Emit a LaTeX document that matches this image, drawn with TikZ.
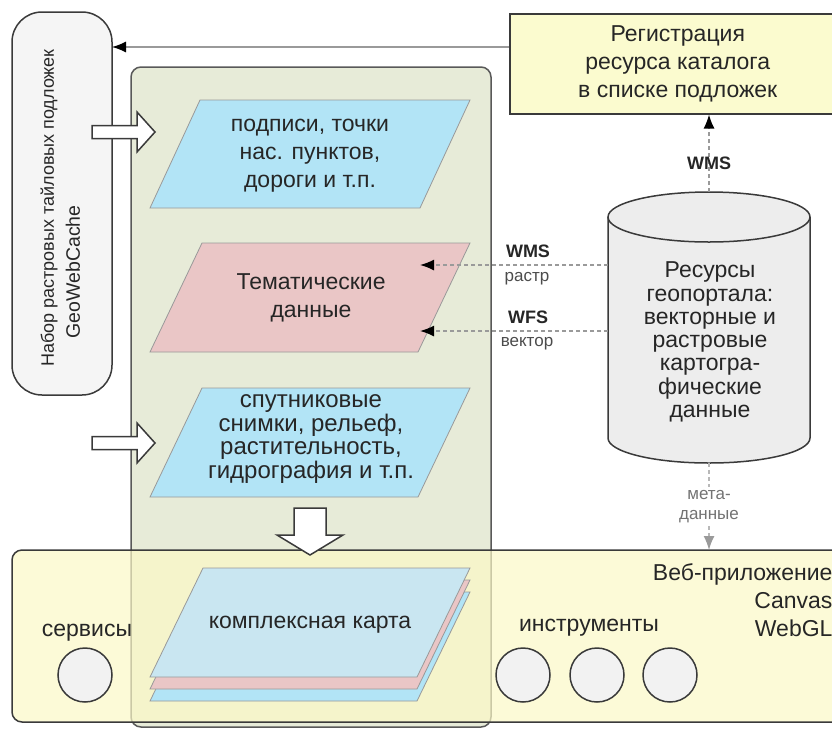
\documentclass[tikz,border=0pt]{standalone}
\usepackage{fontspec}
\setmainfont{Liberation Sans}
\usetikzlibrary{arrows.meta}

\definecolor{boxgray}{HTML}{F5F5F5}
\definecolor{panelgreen}{HTML}{E7EBD8}
\definecolor{paperblue}{HTML}{B2E4F6}
\definecolor{paperpink}{HTML}{EAC6C6}
\definecolor{mapblue}{HTML}{C9E6F1}
\definecolor{noteyellow}{HTML}{FBFBCF}
\definecolor{bandyellow}{HTML}{FBF8C6}
\definecolor{cylgray}{HTML}{EDEDED}
\definecolor{linegray}{HTML}{9A9A9A}
\definecolor{edgegray}{HTML}{3A3A3A}

\tikzset{
	big/.style={font=\fontsize{23}{28}\selectfont, text=black!85, align=center},
	lbl/.style={font=\fontsize{18}{20}\selectfont\bfseries, text=black!85, inner sep=1pt},
	sublbl/.style={font=\fontsize{17}{20}\selectfont, text=black!70, inner sep=1pt},
	frame/.style={draw=edgegray, line width=1.5pt},
	sheet/.style={draw=black!40, line width=0.8pt},
	blockarrow/.style={frame, fill=white, line join=miter},
	link/.style={draw=linegray, line width=1.5pt, dash pattern=on 4pt off 3pt,
		-{Latex[length=14pt,width=11pt,color=black]}},
	tool/.style={circle, frame, fill=cylgray!70, minimum size=54pt, inner sep=0pt}
}

\begin{document}
\begin{tikzpicture}[x=1pt,y=-1pt]
	\useasboundingbox (0,0) rectangle (832,729);
	
	% tile cache and the layer panel
	\draw[frame, fill=boxgray, rounded corners=30pt] (12,12) rectangle (112,395);
	\node[big, rotate=90, font=\fontsize{18}{24}\selectfont] (cache) at (49,208)
		{Набор растровых тайловых подложек};
	\node[big, rotate=90, font=\fontsize{19.5}{24}\selectfont] (cachename) at (73,272) {GeoWebCache};
	\coordinate (cachetip) at (112,47);
	\draw[frame, draw=black!65, fill=panelgreen, rounded corners=10pt] (131,67) rectangle (491,727);
	
	\draw[sheet, fill=paperblue] (150,208) -- (200,100) -- (470,100) -- (420,208) -- cycle;
	\node[big] (labels) at (310,156) {подписи, точки\\нас. пунктов,\\дороги и т.п.};
	\draw[sheet, fill=paperpink] (150,352) -- (202,243) -- (470,243) -- (418,352) -- cycle;
	\node[big] (theme) at (311,298) {Тематические\\данные};
	\draw[sheet, fill=paperblue] (150,497) -- (202,388) -- (470,388) -- (418,497) -- cycle;
	\node[big, font=\fontsize{24}{23.5}\selectfont] (sat) at (311,439)
		{спутниковые\\снимки, рельеф,\\растительность,\\гидрография и т.п.};
	\coordinate (wmsend) at (420,265);
	\coordinate (wfsend) at (420,331);
	
	\foreach \c in {132,443}{% block arrows
		\draw[blockarrow] (92,\c-6.5) -- (137,\c-6.5) -- (137,\c-20) -- (155,\c)
			-- (137,\c+20) -- (137,\c+6.5) -- (92,\c+6.5) -- cycle;
	}
	
	% catalogue registration
	\node[frame, fill=noteyellow, big, anchor=north west, minimum width=336pt,
		minimum height=100pt] (reg) at (509,13) {Регистрация\\ресурса каталога\\в списке подложек};
	\draw[draw=linegray, line width=1.2pt, -{Latex[length=14pt,width=11pt,color=black]}]
		(reg.west |- cachetip) -- (cachetip);
	
	% geoportal resources
	\draw[frame, fill=cylgray] (608,217) -- (608,438)
		arc[start angle=180, end angle=360, x radius=101pt, y radius=25pt] -- (810,217);
	\draw[frame, fill=cylgray] (709,217) ellipse [x radius=101pt, y radius=25pt];
	\node[big, font=\fontsize{23}{23.3}\selectfont] (geo) at (710,342)
		{Ресурсы\\геопортала:\\векторные и\\растровые\\картогра-\\фические\\данные};
	\coordinate (geotop) at (709,192);
	\coordinate (geobot) at (709,463);
	\coordinate (geowms) at (608,265);
	\coordinate (geowfs) at (608,331);
	
	\draw[link] (geotop) -- node[lbl, pos=0.37] {WMS} (geotop |- reg.south);
	\draw[link] (geowms) -- (wmsend);
	\draw[link] (geowfs) -- (wfsend);
	\node[lbl] (wmslbl) at (528,251) {WMS};
	\node[sublbl] (rastlbl) at (527,279) {растр};
	\node[lbl] (wfslbl) at (528,317) {WFS};
	\node[sublbl] (veclbl) at (527,344) {вектор};
	
	% web application
	\draw[frame, fill=bandyellow, fill opacity=0.7, rounded corners=10pt] (12,550) rectangle (845,722);
	\coordinate (bandtop) at (709,550);
	\draw[link, draw=linegray!70, -{Latex[length=14pt,width=11pt,color=linegray]}] (geobot) --
		node[sublbl, text=black!55, fill=white, align=center, inner sep=3pt] {мета-\\данные} (bandtop);
	
	\foreach \d/\col in {24/paperblue, 12/paperpink, 0/mapblue}{% map layers
		\draw[sheet, fill=\col] (150,677+\d) -- (203,568+\d) -- (470,568+\d) -- (417,677+\d) -- cycle;
	}
	\node[big] (map) at (310,625) {комплексная карта};
	\draw[blockarrow] (294,508) -- (326,508) -- (326,535) -- (343,535) -- (310,555)
		-- (277,535) -- (294,535) -- cycle;
	
	\node[big] (srv) at (87,633) {сервисы};
	\node[tool] (srvc) at (85,675) {};
	\node[big] (tools) at (589,628) {инструменты};
	\foreach \x [count=\i] in {523,597,670}
		\node[tool] (tool\i) at (\x,675) {};
	\node[big, anchor=east, align=right] (app) at (836,600) {Веб-приложение\\Canvas\\WebGL};
\end{tikzpicture}
\end{document}
